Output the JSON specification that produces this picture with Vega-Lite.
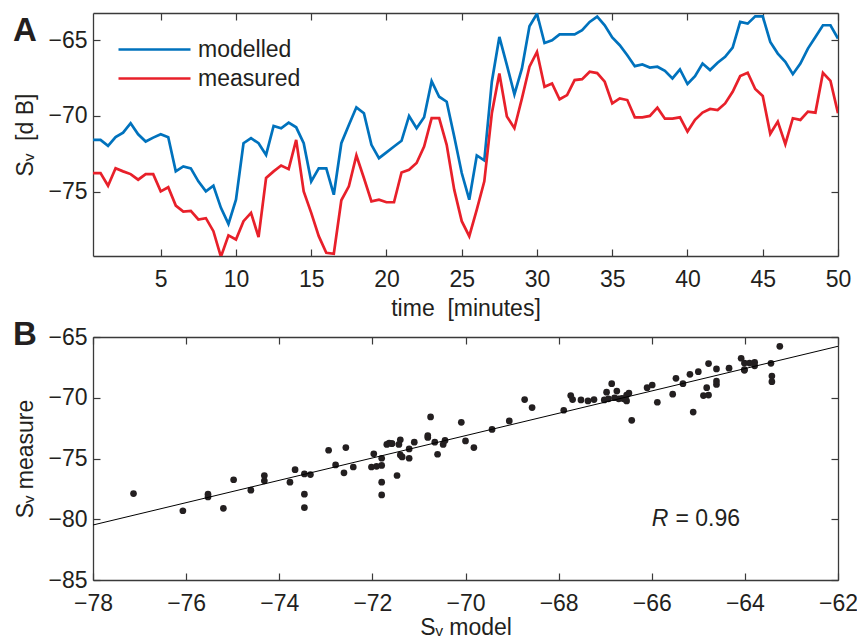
{
"$schema": "https://vega.github.io/schema/vega-lite/v6.json",
"padding": {"left": 13, "top": 12, "right": 0, "bottom": 0},
"data": {"values": [
{"t":0.5,"modelled":-71.58,"measured":-73.77},
{"t":1.0,"modelled":-71.58,"measured":-73.77},
{"t":1.5,"modelled":-71.97,"measured":-74.61},
{"t":2.0,"modelled":-71.40,"measured":-73.46},
{"t":2.5,"modelled":-71.10,"measured":-73.66},
{"t":3.0,"modelled":-70.48,"measured":-73.84},
{"t":3.5,"modelled":-71.21,"measured":-74.21},
{"t":4.0,"modelled":-71.69,"measured":-73.84},
{"t":4.5,"modelled":-71.43,"measured":-73.84},
{"t":5.0,"modelled":-71.21,"measured":-74.98},
{"t":5.5,"modelled":-71.40,"measured":-74.71},
{"t":6.0,"modelled":-73.66,"measured":-75.92},
{"t":6.5,"modelled":-73.33,"measured":-76.32},
{"t":7.0,"modelled":-73.46,"measured":-76.27},
{"t":7.5,"modelled":-74.32,"measured":-76.84},
{"t":8.0,"modelled":-74.98,"measured":-76.75},
{"t":8.5,"modelled":-74.61,"measured":-77.61},
{"t":9.0,"modelled":-76.07,"measured":-79.30},
{"t":9.5,"modelled":-77.13,"measured":-77.89},
{"t":10.0,"modelled":-75.53,"measured":-78.16},
{"t":10.5,"modelled":-71.80,"measured":-76.95},
{"t":11.0,"modelled":-71.47,"measured":-76.40},
{"t":11.5,"modelled":-71.80,"measured":-78.00},
{"t":12.0,"modelled":-72.57,"measured":-74.10},
{"t":12.5,"modelled":-70.66,"measured":-73.66},
{"t":13.0,"modelled":-70.81,"measured":-73.27},
{"t":13.5,"modelled":-70.44,"measured":-73.51},
{"t":14.0,"modelled":-70.75,"measured":-71.58},
{"t":14.5,"modelled":-71.80,"measured":-74.98},
{"t":15.0,"modelled":-74.32,"measured":-76.40},
{"t":15.5,"modelled":-73.46,"measured":-77.94},
{"t":16.0,"modelled":-73.46,"measured":-79.04},
{"t":16.5,"modelled":-75.20,"measured":-79.10},
{"t":17.0,"modelled":-71.80,"measured":-75.57},
{"t":17.5,"modelled":-70.60,"measured":-74.65},
{"t":18.0,"modelled":-69.43,"measured":-72.61},
{"t":18.5,"modelled":-69.82,"measured":-74.10},
{"t":19.0,"modelled":-71.91,"measured":-75.64},
{"t":19.5,"modelled":-72.79,"measured":-75.53},
{"t":20.0,"modelled":-72.41,"measured":-75.70},
{"t":20.5,"modelled":-72.02,"measured":-75.70},
{"t":21.0,"modelled":-71.64,"measured":-73.73},
{"t":21.5,"modelled":-70.00,"measured":-73.55},
{"t":22.0,"modelled":-70.81,"measured":-73.11},
{"t":22.5,"modelled":-70.09,"measured":-72.02},
{"t":23.0,"modelled":-67.70,"measured":-70.15},
{"t":23.5,"modelled":-68.73,"measured":-70.15},
{"t":24.0,"modelled":-69.06,"measured":-71.91},
{"t":24.5,"modelled":-71.36,"measured":-74.87},
{"t":25.0,"modelled":-73.77,"measured":-76.95},
{"t":25.5,"modelled":-75.53,"measured":-77.94},
{"t":26.0,"modelled":-72.61,"measured":-76.18},
{"t":26.5,"modelled":-72.94,"measured":-74.32},
{"t":27.0,"modelled":-67.74,"measured":-69.82},
{"t":27.5,"modelled":-64.78,"measured":-67.19},
{"t":28.0,"modelled":-66.64,"measured":-70.04},
{"t":28.5,"modelled":-68.57,"measured":-70.81},
{"t":29.0,"modelled":-66.86,"measured":-68.84},
{"t":29.5,"modelled":-64.08,"measured":-66.75},
{"t":30.0,"modelled":-63.25,"measured":-65.77},
{"t":30.5,"modelled":-65.18,"measured":-68.07},
{"t":31.0,"modelled":-65.00,"measured":-67.85},
{"t":31.5,"modelled":-64.61,"measured":-68.90},
{"t":32.0,"modelled":-64.61,"measured":-68.62},
{"t":32.5,"modelled":-64.61,"measured":-67.63},
{"t":33.0,"modelled":-64.34,"measured":-67.57},
{"t":33.5,"modelled":-63.79,"measured":-67.08},
{"t":34.0,"modelled":-63.44,"measured":-67.17},
{"t":34.5,"modelled":-64.01,"measured":-67.74},
{"t":35.0,"modelled":-64.82,"measured":-69.17},
{"t":35.5,"modelled":-65.33,"measured":-68.84},
{"t":36.0,"modelled":-65.99,"measured":-68.95},
{"t":36.5,"modelled":-66.71,"measured":-70.09},
{"t":37.0,"modelled":-66.60,"measured":-70.09},
{"t":37.5,"modelled":-66.80,"measured":-70.00},
{"t":38.0,"modelled":-66.75,"measured":-69.45},
{"t":38.5,"modelled":-67.02,"measured":-70.18},
{"t":39.0,"modelled":-67.52,"measured":-70.18},
{"t":39.5,"modelled":-66.93,"measured":-70.09},
{"t":40.0,"modelled":-67.89,"measured":-71.03},
{"t":40.5,"modelled":-67.37,"measured":-70.26},
{"t":41.0,"modelled":-66.54,"measured":-69.78},
{"t":41.5,"modelled":-66.97,"measured":-69.54},
{"t":42.0,"modelled":-66.49,"measured":-69.61},
{"t":42.5,"modelled":-66.10,"measured":-69.17},
{"t":43.0,"modelled":-65.48,"measured":-68.40},
{"t":43.5,"modelled":-63.79,"measured":-67.37},
{"t":44.0,"modelled":-63.90,"measured":-67.15},
{"t":44.5,"modelled":-63.42,"measured":-68.22},
{"t":45.0,"modelled":-63.42,"measured":-68.68},
{"t":45.5,"modelled":-65.11,"measured":-71.18},
{"t":46.0,"modelled":-65.88,"measured":-70.37},
{"t":46.5,"modelled":-66.43,"measured":-71.86},
{"t":47.0,"modelled":-67.24,"measured":-70.15},
{"t":47.5,"modelled":-66.54,"measured":-70.26},
{"t":48.0,"modelled":-65.55,"measured":-69.71},
{"t":48.5,"modelled":-64.78,"measured":-69.78},
{"t":49.0,"modelled":-64.01,"measured":-67.15},
{"t":49.5,"modelled":-64.01,"measured":-67.68},
{"t":50.0,"modelled":-64.89,"measured":-69.82}
]},
"bounds": "flush",
"spacing": 81,
"vconcat": [
{
 "width": 745, "height": 243,
 "title": {"text": "A", "anchor": "start", "frame": "group", "orient": "top", "offset": -62, "dx": -80, "fontSize": 33, "fontWeight": "bold", "baseline": "alphabetic", "font": "Liberation Sans", "color": "#231f20"},
 "layer": [
  {
   "transform": [{"fold": ["modelled", "measured"], "as": ["series", "value"]}],
   "mark": {"type": "line", "strokeWidth": 2.7, "clip": true},
   "encoding": {
    "x": {"field": "t", "type": "quantitative", "scale": {"domain": [0.5, 50], "nice": false, "zero": false}, "axis": {"values": [5,10,15,20,25,30,35,40,45,50], "title": "time \u00a0[minutes]"}},
    "y": {"field": "value", "type": "quantitative", "scale": {"domain": [-79.25, -63.2], "nice": false, "zero": false}, "axis": {"values": [-75,-70,-65], "title": "Sᵥ \u00a0[d B]"}},
    "color": {"field": "series", "type": "nominal", "sort": ["modelled", "measured"], "scale": {"domain": ["modelled", "measured"], "range": ["#0072BD", "#E8202A"]},
      "legend": {"title": null, "orient": "none", "legendX": 22, "legendY": 25, "padding": 0, "symbolType": "M-1,0H8", "symbolSize": 256, "symbolStrokeWidth": 2.7, "labelFontSize": 23, "labelFont": "Liberation Sans", "labelColor": "#231f20", "labelOffset": 60, "rowPadding": 5}}
   }
  },
  {
   "mark": {"type": "line", "opacity": 0},
   "encoding": {
    "x": {"field": "t", "type": "quantitative", "scale": {"domain": [0.5, 50], "nice": false, "zero": false}, "axis": {"orient": "top", "labels": false, "title": null, "values": [5,10,15,20,25,30,35,40,45,50]}},
    "y": {"field": "modelled", "type": "quantitative", "scale": {"domain": [-79.25, -63.2], "nice": false, "zero": false}, "axis": {"orient": "right", "labels": false, "title": null, "values": [-75,-70,-65]}}
   }
  }
 ],
 "resolve": {"axis": {"x": "independent", "y": "independent"}}
},
{
 "width": 745, "height": 243,
 "title": {"text": "B", "anchor": "start", "frame": "group", "orient": "top", "offset": -52, "dx": -80, "fontSize": 33, "fontWeight": "bold", "baseline": "alphabetic", "font": "Liberation Sans", "color": "#231f20"},
 "layer": [
  {
   "mark": {"type": "point", "filled": true, "size": 45, "opacity": 1, "color": "#231f20"},
   "encoding": {
    "x": {"field": "modelled", "type": "quantitative", "scale": {"domain": [-78, -62], "nice": false, "zero": false}, "axis": {"values": [-78,-76,-74,-72,-70,-68,-66,-64,-62], "title": "Sᵥ model", "titlePadding": 1}},
    "y": {"field": "measured", "type": "quantitative", "scale": {"domain": [-85, -65], "nice": false, "zero": false}, "axis": {"values": [-85,-80,-75,-70,-65], "title": "Sᵥ measure"}}
   }
  },
  {
   "transform": [{"regression": "measured", "on": "modelled", "extent": [-78, -62]}],
   "mark": {"type": "line", "color": "#000000", "strokeWidth": 1, "clip": true},
   "encoding": {
    "x": {"field": "modelled", "type": "quantitative", "scale": {"domain": [-78, -62], "nice": false, "zero": false}, "axis": {"orient": "top", "labels": false, "title": null, "values": [-78,-76,-74,-72,-70,-68,-66,-64,-62]}},
    "y": {"field": "measured", "type": "quantitative", "scale": {"domain": [-85, -65], "nice": false, "zero": false}, "axis": {"orient": "right", "labels": false, "title": null, "values": [-85,-80,-75,-70,-65]}}
   }
  },
  {
   "data": {"values": [{}]},
   "mark": {"type": "text", "text": "R", "fontStyle": "italic", "fontSize": 23, "font": "Liberation Sans", "align": "left", "baseline": "middle", "color": "#231f20"},
   "encoding": {
    "x": {"datum": -66.0, "type": "quantitative", "axis": null},
    "y": {"datum": -80.0, "type": "quantitative", "axis": null}
   }
  },
  {
   "data": {"values": [{}]},
   "mark": {"type": "text", "text": "= 0.96", "fontSize": 23, "font": "Liberation Sans", "align": "left", "baseline": "middle", "color": "#231f20"},
   "encoding": {
    "x": {"datum": -65.49, "type": "quantitative", "axis": null},
    "y": {"datum": -80.0, "type": "quantitative", "axis": null}
   }
  }
 ],
 "resolve": {"axis": {"x": "independent", "y": "independent"}}
}
],
"config": {
 "font": "Liberation Sans",
 "view": {"stroke": null},
 "axis": {"domainColor": "#3a3a3a", "domainWidth": 1.3, "tickColor": "#3a3a3a", "tickSize": -7, "tickWidth": 1.2, "labelFont": "Liberation Sans", "labelFontSize": 23, "labelColor": "#231f20", "labelPadding": 19, "labelFlush": false, "labelOverlap": false, "labelBound": false, "titleFont": "Liberation Sans", "titleFontSize": 23, "titleFontWeight": "normal", "titleColor": "#231f20", "grid": false, "titlePadding": 6},
 "axisY": {"labelPadding": 13, "titlePadding": 10}
}
}
